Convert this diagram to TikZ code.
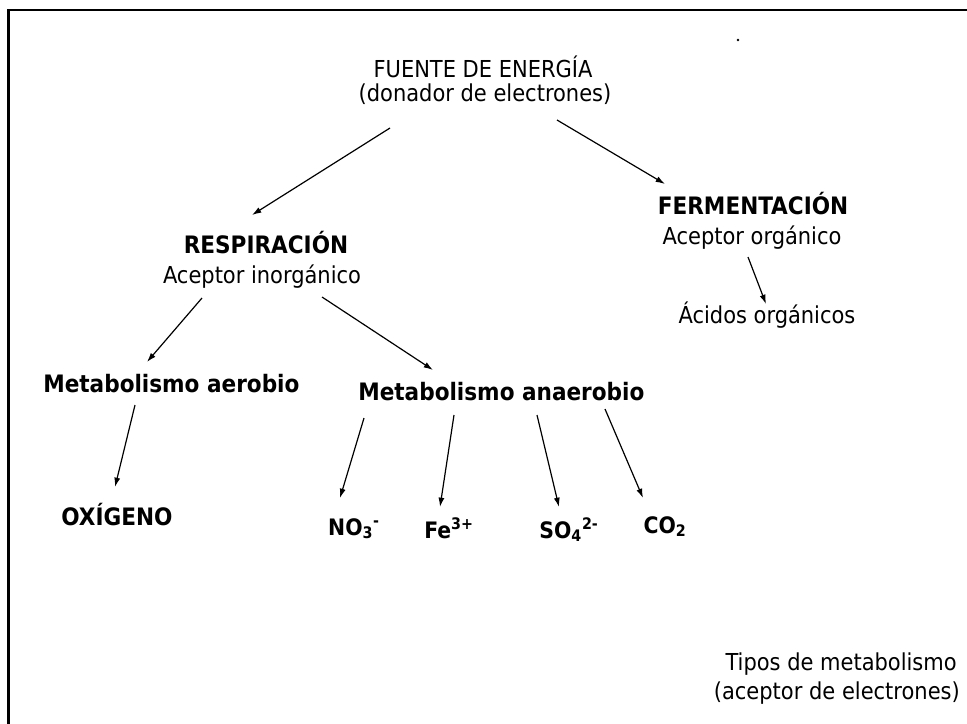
\documentclass[tikz,border=0pt]{standalone}
\usepackage{fontspec}
\setmainfont{DejaVu Sans Condensed}[BoldFont={DejaVu Sans Condensed Bold}]
\usepackage{tikz}
\usetikzlibrary{arrows.meta}

\begin{document}
\begin{tikzpicture}[
  x=0.75pt, y=-0.75pt,
  >=Latex,
  txt/.style={font=\fontsize{17.5}{21}\selectfont, inner sep=0pt, anchor=base},
  head/.style={font=\fontsize{18}{21}\selectfont\bfseries, inner sep=0pt, anchor=base},
  chem/.style={font=\fontsize{17}{21}\selectfont\bfseries, inner sep=0pt, anchor=base},
  arrow/.style={-{Latex[length=7pt,width=4.5pt]}, line width=0.9pt},
  frame/.style={line width=1.8pt}
]
\useasboundingbox (0,0) rectangle (967,724);

% marco
\draw[frame] (8.5,724) -- (8.5,10) -- (967,10);
\fill (738,40) circle (1.3);

% fuente de energia
\node[txt] (fuente) at (483,78) {FUENTE DE ENERGÍA};
\node[txt] (donador) at (485,101) {(donador de electrones)};

% respiracion / fermentacion
\node[head] (resp) at (266,253) {RESPIRACIÓN};
\node[txt] (inorg) at (262,283) {Aceptor inorgánico};
\node[head] (ferm) at (753,214) {FERMENTACIÓN};
\node[txt] (org) at (752,244) {Aceptor orgánico};
\node[txt] (acidos) at (767,323) {Ácidos orgánicos};

% metabolismo
\node[head, anchor=base west] (aerobio) at (43,392) {Metabolismo aerobio};
\node[head, anchor=base west] (anaerobio) at (358,400) {Metabolismo anaerobio};

% aceptores
\node[head] (oxigeno) at (117,525) {OXÍGENO};
\node[chem] (no3) at (354,535) {NO\textsubscript{3}\textsuperscript{-}};
\node[chem] (fe) at (449,538) {Fe\textsuperscript{3+}};
\node[chem] (so4) at (569,538) {SO\textsubscript{4}\textsuperscript{2-}};
\node[chem] (co2) at (665,533) {CO\textsubscript{2}};

\node[txt, anchor=base east] (tipos) at (957,670) {Tipos de metabolismo};
\node[txt, anchor=base east] (aceptor) at (960,699) {(aceptor de electrones)};

% flechas
\draw[arrow] ([shift={(-95,27)}]donador.base) -- ([shift={(-14,-38)}]resp.base);
\draw[arrow] ([shift={(72,19)}]donador.base) -- ([shift={(-88,-30)}]ferm.base);
\draw[arrow] ([shift={(-60,15)}]inorg.base) -- ([shift={(104,-30)}]aerobio.base west);
\draw[arrow] ([shift={(60,14)}]inorg.base) -- ([shift={(75,-30)}]anaerobio.base west);
\draw[arrow] ([shift={(-4,13)}]org.base) -- ([shift={(-1,-19)}]acidos.base);
\draw[arrow] ([shift={(92,13)}]aerobio.base west) -- ([shift={(-2,-38)}]oxigeno.base);
\draw[arrow] ([shift={(6,18)}]anaerobio.base west) -- ([shift={(-14,-37)}]no3.base);
\draw[arrow] ([shift={(96,15)}]anaerobio.base west) -- ([shift={(-9,-31)}]fe.base);
\draw[arrow] ([shift={(179,15)}]anaerobio.base west) -- ([shift={(-10,-31)}]so4.base);
\draw[arrow] ([shift={(247,9)}]anaerobio.base west) -- ([shift={(-22,-35)}]co2.base);

\end{tikzpicture}
\end{document}
